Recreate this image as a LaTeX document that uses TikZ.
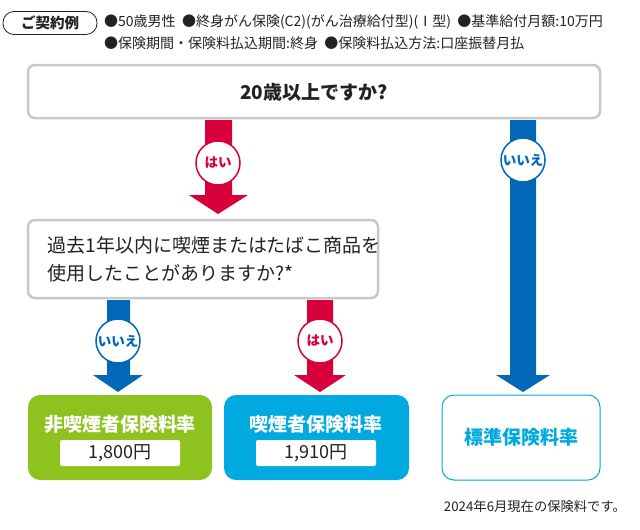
\documentclass[tikz,border=0pt]{standalone}
\usepackage{fontspec}
\setmainfont{Noto Sans CJK JP}
\definecolor{cred}{HTML}{D7003A}
\definecolor{cblue}{HTML}{0068B7}
\definecolor{cgreen}{HTML}{8DC21F}
\definecolor{ccyan}{HTML}{00A9E0}
\definecolor{cgray}{HTML}{C8C8C8}
\definecolor{ctext}{HTML}{222222}
\begin{document}
\begin{tikzpicture}[x=1pt,y=-1pt,
  qbox/.style={draw=cgray,line width=2.5pt,rounded corners=7pt,fill=white},
  bub/.style={circle,draw=#1,line width=1.5pt,fill=white,minimum size=44pt,inner sep=0pt,text=#1,font=\bfseries\fontsize{13.5}{13.5}\selectfont},
  res/.style={rounded corners=12pt},
  val/.style={fill=white,rounded corners=2pt,minimum width=120pt,minimum height=26pt,inner sep=0pt,font=\fontsize{18}{18}\selectfont,text=ctext}]
\useasboundingbox (0,0) rectangle (640,530);
% header
\node[draw=ctext,line width=0.8pt,rounded corners=11pt,minimum width=94pt,minimum height=23pt,inner sep=0pt,font=\bfseries\fontsize{14.5}{14.5}\selectfont,text=ctext] (hdr) at (50,23) {ご契約例};
\node[anchor=west,inner sep=0pt,font=\fontsize{14}{14}\selectfont,text=ctext] (l1) at (104,22) {●50歳男性\ \ ●終身がん保険(C2)(がん治療給付型)(Ⅰ型)\ \ ●基準給付月額:10万円};
\node[anchor=west,inner sep=0pt,font=\fontsize{14}{14}\selectfont,text=ctext] (l2) at (104,43) {●保険期間・保険料払込期間:終身\ \ ●保険料払込方法:口座振替月払};
% arrows
\fill[cred] (205,120) -- (232,120) -- (232,195) -- (248,195) -- (218,214) -- (189,195) -- (205,195) -- cycle;
\fill[cblue] (510,120) -- (536,120) -- (536,375) -- (550,375) -- (523,392) -- (496,375) -- (510,375) -- cycle;
\fill[cblue] (107,300) -- (130,300) -- (130,375) -- (143,375) -- (118,392) -- (93,375) -- (107,375) -- cycle;
\fill[cred] (307,300) -- (333,300) -- (333,375) -- (346,375) -- (320,392) -- (294,375) -- (307,375) -- cycle;
% question boxes
\draw[qbox] (28,65) rectangle (600,118);
\node[font=\bfseries\fontsize{19}{19}\selectfont,text=ctext] (q1) at (314,92) {20歳以上ですか?};
\draw[qbox] (28,220) rectangle (378,298);
\node[anchor=west,align=left,font=\fontsize{19}{28}\selectfont,text=ctext] (q2) at (44,259) {過去1年以内に喫煙またはたばこ商品を\\使用したことがありますか?*};
% bubbles
\node[bub=cred] (b1) at (218,163) {はい};
\node[bub=cblue] (b2) at (523,160) {いいえ};
\node[bub=cblue] (b3) at (118,341) {いいえ};
\node[bub=cred] (b4) at (320,341) {はい};
% results
\fill[cgreen,res] (28,395) rectangle (212,480);
\node[text=white,font=\bfseries\fontsize{19}{19}\selectfont] (r1) at (120,424) {非喫煙者保険料率};
\node[val] (v1) at (120,453) {1,800円};
\fill[ccyan,res] (224,395) rectangle (409,480);
\node[text=white,font=\bfseries\fontsize{19}{19}\selectfont] (r2) at (316,424) {喫煙者保険料率};
\node[val] (v2) at (316,453) {1,910円};
\draw[ccyan,line width=1pt,res,fill=white] (442,395) rectangle (600,480);
\node[text=ccyan,font=\bfseries\fontsize{19}{19}\selectfont] (r3) at (521,437) {標準保険料率};
\node[anchor=east,inner sep=0pt,font=\fontsize{13.3}{13.3}\selectfont,text=ctext] (fn) at (626,506) {2024年6月現在の保険料です。};
\end{tikzpicture}
\end{document}
